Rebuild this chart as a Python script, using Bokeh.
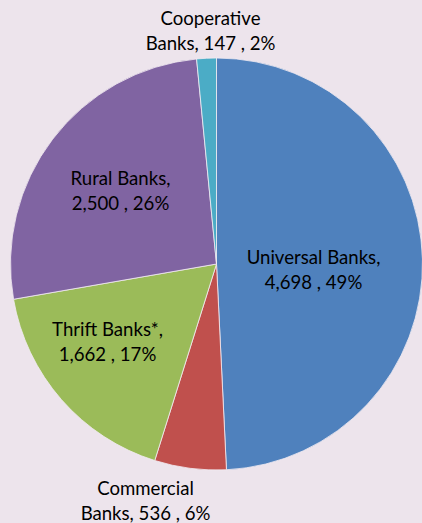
import math
from bokeh.plotting import figure
from bokeh.models import ColumnDataSource, GlobalInlineStyleSheet
from bokeh.core.properties import value
from bokeh.embed import file_html
from bokeh.resources import INLINE

# ---- data ----
categories = ["Universal Banks", "Commercial Banks", "Thrift Banks*", "Rural Banks", "Cooperative Banks"]
counts = [4698, 536, 1662, 2500, 147]
colors = ["#4F81BD", "#C0504D", "#9BBB59", "#8064A2", "#4BACC6"]
# how the label wraps: after the comma ("comma") or after the first word ("word")
wrap = ["comma", "word", "comma", "comma", "word"]

BG = "#EDE4EC"
W, H = 422, 523
FONT = "Lato"

total = sum(counts)
pcts = [round(c / total * 100) for c in counts]

starts, ends = [], []
cum = 0.0
for c in counts:
    starts.append(math.pi / 2 - 2 * math.pi * cum / total)
    cum += c
    ends.append(math.pi / 2 - 2 * math.pi * cum / total)

p = figure(width=W, height=H, x_range=(0, W), y_range=(0, H),
           output_backend="svg", toolbar_location=None, min_border=0)
p.axis.visible = False
p.grid.visible = False
p.outline_line_color = None
p.background_fill_color = BG
p.border_fill_color = BG
p.stylesheets = [GlobalInlineStyleSheet(css=f"html, body {{ margin:0; padding:0; background:{BG}; overflow:hidden; }}")]

# pie layout (pixel units, y measured from top)
cx, cy, r = 216, 263.5, 206

src = ColumnDataSource(dict(start=starts, end=ends, color=colors))
p.wedge(x=cx, y=H - cy, radius=r, start_angle="start", end_angle="end",
        direction="clock", fill_color="color", line_color="#F2ECF2",
        line_width=0.8, source=src)

# label anchor positions (centre of two-line block), pixel units from top
anchors = [(313, 269), (145, 500), (107, 341), (120, 190), (210, 30)]
line_gap = 24.5

xs, ys, texts = [], [], []
for name, c, pc, w, (ax, ay) in zip(categories, counts, pcts, wrap, anchors):
    tail = f"{c:,} , {pc}%"
    if w == "comma":
        l1, l2 = name + ",", tail
    else:
        first, rest = name.split(" ", 1)
        l1, l2 = first, f"{rest}, {tail}"
    xs += [ax, ax]
    ys += [H - (ay - line_gap / 2), H - (ay + line_gap / 2)]
    texts += [l1, l2]

p.text(x=xs, y=ys, text=texts, text_align="center", text_baseline="middle",
       text_font=value(FONT), text_font_size="18.6px", text_color="#000000")

open("out.html", "w").write(file_html(p, INLINE))
